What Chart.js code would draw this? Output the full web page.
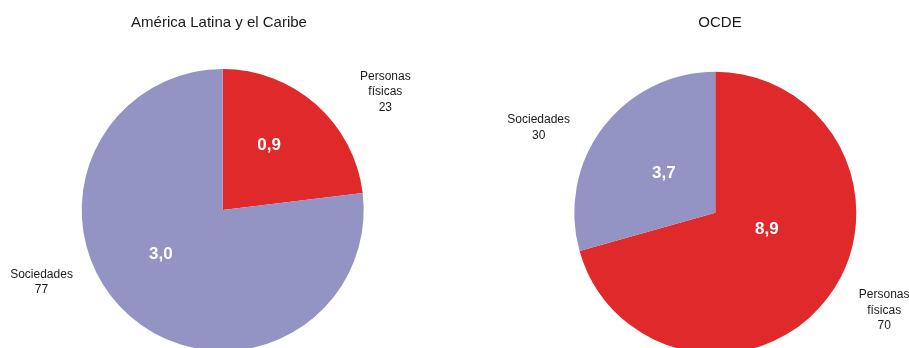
<!DOCTYPE html>
<html>
<head>
<meta charset="utf-8">
<script src="https://cdn.jsdelivr.net/npm/chart.js@4"></script>
<style>
  html, body { margin: 0; padding: 0; background: #fff; width: 909px; height: 348px; overflow: hidden; }
  canvas { position: absolute; top: 0; }
  #lac { left: 0; }
  #ocde { left: 455px; }
</style>
</head>
<body>
<canvas id="lac" width="455" height="420"></canvas>
<canvas id="ocde" width="454" height="420"></canvas>
<script>
// data
const categories = ["Personas\nfísicas", "Sociedades"];
const lacValues = [0.9, 3.0];
const lacShares = [23, 77];
const ocdeValues = [8.9, 3.7];
const ocdeShares = [70, 30];
const titles = ["América Latina y el Caribe", "OCDE"];

const colors = ["#e0292a", "#9494c4"];
const font = "'Liberation Sans', Arial, sans-serif";

// label placement: [degrees clockwise from top, distance from centre]
function polar(arc, a, d) {
  const rad = a * Math.PI / 180;
  return [arc.x + d * Math.sin(rad), arc.y - d * Math.cos(rad)];
}

const labelsPlugin = {
  id: "pieLabels",
  afterDatasetsDraw(chart, args, opts) {
    const ctx = chart.ctx;
    const meta = chart.getDatasetMeta(0);
    const values = chart.data.datasets[0].data;
    ctx.save();
    // title
    const c0 = meta.data[0];
    ctx.fillStyle = "#1a1a1a";
    ctx.font = "15px " + font;
    ctx.textAlign = "center";
    ctx.textBaseline = "middle";
    ctx.fillText(opts.title, c0.x + opts.titleDx, 23);

    meta.data.forEach((arc, i) => {
      // value inside the slice
      let [x, y] = polar(arc, opts.inner[i][0], opts.inner[i][1]);
      ctx.fillStyle = "#ffffff";
      ctx.font = "bold 17px " + font;
      ctx.fillText(values[i].toFixed(1).replace(".", ","), x, y);

      // category + share outside
      [x, y] = polar(arc, opts.outer[i][0], opts.outer[i][1]);
      const lines = chart.data.labels[i].split("\n").concat(String(opts.shares[i]));
      const lh = 15.5;
      ctx.fillStyle = "#1a1a1a";
      ctx.font = "12px " + font;
      lines.forEach((t, k) => {
        ctx.fillText(t, x, y + (k - (lines.length - 1) / 2) * lh);
      });
    });
    ctx.restore();
  }
};

function makePie(id, values, shares, title, pad, opts) {
  return new Chart(document.getElementById(id), {
    type: "pie",
    data: {
      labels: categories,
      datasets: [{
        data: values,
        backgroundColor: colors,
        borderWidth: 0,
        hoverOffset: 0
      }]
    },
    options: {
      responsive: false,
      maintainAspectRatio: false,
      animation: false,
      layout: { padding: pad },
      plugins: {
        legend: { display: false },
        tooltip: { enabled: false },
        pieLabels: Object.assign({ title: title, shares: shares }, opts)
      }
    },
    plugins: [labelsPlugin]
  });
}

makePie("lac", lacValues, lacShares, titles[0],
  { left: 81.7, right: 91.3, top: 69, bottom: 69 },
  { titleDx: -3.7, inner: [[35.5, 80], [234.5, 76]], outer: [[54, 201], [248.3, 195]] });

makePie("ocde", ocdeValues, ocdeShares, titles[1],
  { left: 119.3, right: 52.7, top: 71.7, bottom: 66.3 },
  { titleDx: 4.7, inner: [[107.5, 54], [307.7, 65]], outer: [[120, 195], [295.7, 196]] });
</script>
</body>
</html>
